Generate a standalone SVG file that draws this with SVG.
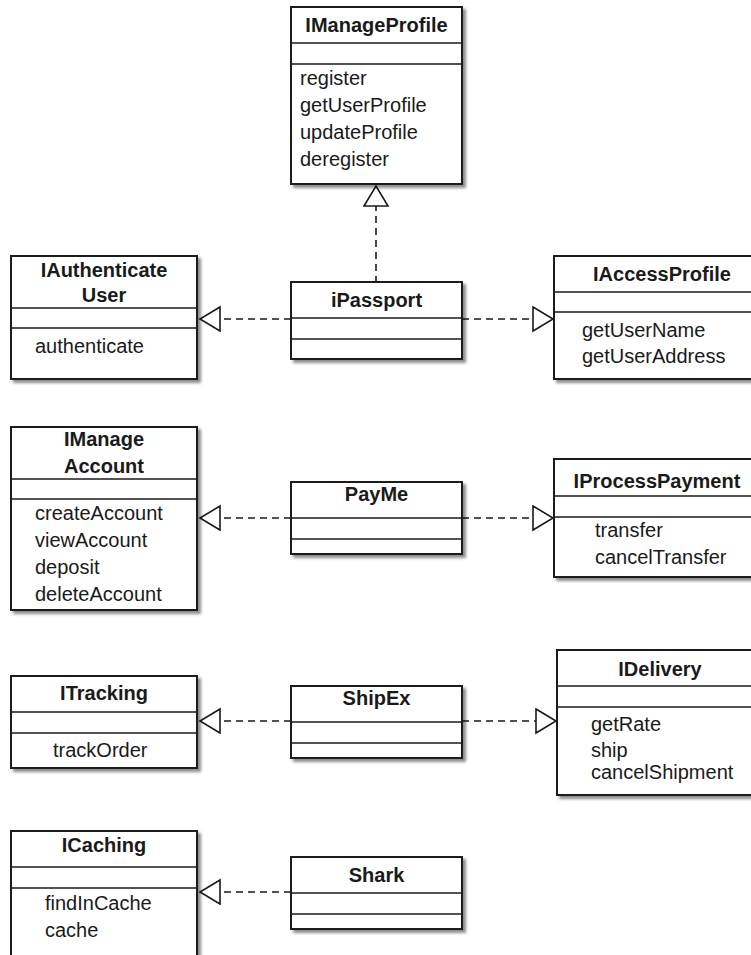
<svg xmlns="http://www.w3.org/2000/svg" width="751" height="955" viewBox="0 0 751 955">
<style>
.box{fill:#fff;stroke:#1a1a1a;stroke-width:2;filter:url(#sh)}
.sep{stroke:#1a1a1a;stroke-width:1.5}
.t{font-family:"Liberation Sans",Arial,sans-serif;font-size:20px;font-weight:bold;fill:#1a1a1a;text-anchor:middle}
.m{font-family:"Liberation Sans",Arial,sans-serif;font-size:20px;fill:#1a1a1a}
.c{fill:none;stroke:#1a1a1a;stroke-width:1.6;stroke-dasharray:7,5;marker-end:url(#tri)}
</style>
<defs>
<filter id="sh" x="-10%" y="-10%" width="130%" height="130%">
<feDropShadow dx="3" dy="3" stdDeviation="1.5" flood-color="#000" flood-opacity="0.45"/>
</filter>
<marker id="tri" markerUnits="userSpaceOnUse" markerWidth="24" markerHeight="28" refX="21" refY="13" orient="auto" viewBox="0 0 24 28">
<path d="M1,1 L21,13 L1,25 Z" fill="#fff" stroke="#1a1a1a" stroke-width="1.6" stroke-dasharray="none"/>
</marker>
</defs>

<g id="connectors">
<line class="c" x1="376" y1="283" x2="376" y2="186"/>
<line class="c" x1="291" y1="319" x2="200" y2="319"/>
<line class="c" x1="462" y1="319" x2="553" y2="319"/>
<line class="c" x1="291" y1="518" x2="200" y2="518"/>
<line class="c" x1="462" y1="518" x2="553" y2="518"/>
<line class="c" x1="291" y1="721" x2="200" y2="721"/>
<line class="c" x1="462" y1="721" x2="556" y2="721"/>
<line class="c" x1="291" y1="892" x2="200" y2="892"/>
</g>

<g id="IManageProfile">
<rect class="box" x="291" y="7" width="171" height="177"/>
<line class="sep" x1="291" y1="43" x2="462" y2="43"/>
<line class="sep" x1="291" y1="64" x2="462" y2="64"/>
<text class="t" x="376.5" y="32">IManageProfile</text>
<text class="m" x="300" y="85">register</text>
<text class="m" x="300" y="112">getUserProfile</text>
<text class="m" x="300" y="139">updateProfile</text>
<text class="m" x="300" y="166">deregister</text>
</g>

<g id="IAuthenticateUser">
<rect class="box" x="11" y="256" width="186" height="123"/>
<line class="sep" x1="11" y1="308" x2="197" y2="308"/>
<line class="sep" x1="11" y1="328" x2="197" y2="328"/>
<text class="t" x="104" y="277">IAuthenticate</text>
<text class="t" x="104" y="302">User</text>
<text class="m" x="35" y="353">authenticate</text>
</g>

<g id="iPassport">
<rect class="box" x="291" y="282" width="171" height="77"/>
<line class="sep" x1="291" y1="318" x2="462" y2="318"/>
<line class="sep" x1="291" y1="339" x2="462" y2="339"/>
<text class="t" x="376.5" y="307">iPassport</text>
</g>

<g id="IAccessProfile">
<rect class="box" x="554" y="256" width="216" height="123"/>
<line class="sep" x1="554" y1="292" x2="770" y2="292"/>
<line class="sep" x1="554" y1="312" x2="770" y2="312"/>
<text class="t" x="662" y="281">IAccessProfile</text>
<text class="m" x="582" y="337">getUserName</text>
<text class="m" x="582" y="363">getUserAddress</text>
</g>

<g id="IManageAccount">
<rect class="box" x="11" y="427" width="186" height="183"/>
<line class="sep" x1="11" y1="479" x2="197" y2="479"/>
<line class="sep" x1="11" y1="499" x2="197" y2="499"/>
<text class="t" x="104" y="446">IManage</text>
<text class="t" x="104" y="473">Account</text>
<text class="m" x="35" y="520">createAccount</text>
<text class="m" x="35" y="547">viewAccount</text>
<text class="m" x="35" y="574">deposit</text>
<text class="m" x="35" y="601">deleteAccount</text>
</g>

<g id="PayMe">
<rect class="box" x="291" y="482" width="171" height="72"/>
<line class="sep" x1="291" y1="518" x2="462" y2="518"/>
<line class="sep" x1="291" y1="539" x2="462" y2="539"/>
<text class="t" x="376.5" y="501">PayMe</text>
</g>

<g id="IProcessPayment">
<rect class="box" x="554" y="459" width="216" height="118"/>
<line class="sep" x1="554" y1="496" x2="770" y2="496"/>
<line class="sep" x1="554" y1="517" x2="770" y2="517"/>
<text class="t" x="657" y="488">IProcessPayment</text>
<text class="m" x="595" y="537">transfer</text>
<text class="m" x="595" y="564">cancelTransfer</text>
</g>

<g id="ITracking">
<rect class="box" x="11" y="676" width="186" height="92"/>
<line class="sep" x1="11" y1="712" x2="197" y2="712"/>
<line class="sep" x1="11" y1="733" x2="197" y2="733"/>
<text class="t" x="104" y="700">ITracking</text>
<text class="m" x="53" y="757">trackOrder</text>
</g>

<g id="ShipEx">
<rect class="box" x="291" y="686" width="171" height="72"/>
<line class="sep" x1="291" y1="722" x2="462" y2="722"/>
<line class="sep" x1="291" y1="743" x2="462" y2="743"/>
<text class="t" x="376.5" y="705">ShipEx</text>
</g>

<g id="IDelivery">
<rect class="box" x="557" y="650" width="213" height="145"/>
<line class="sep" x1="557" y1="686" x2="770" y2="686"/>
<line class="sep" x1="557" y1="707" x2="770" y2="707"/>
<text class="t" x="660" y="676">IDelivery</text>
<text class="m" x="591" y="731">getRate</text>
<text class="m" x="591" y="757">ship</text>
<text class="m" x="591" y="779">cancelShipment</text>
</g>

<g id="ICaching">
<rect class="box" x="11" y="831" width="186" height="140"/>
<line class="sep" x1="11" y1="867" x2="197" y2="867"/>
<line class="sep" x1="11" y1="888" x2="197" y2="888"/>
<text class="t" x="104" y="852">ICaching</text>
<text class="m" x="45" y="910">findInCache</text>
<text class="m" x="45" y="937">cache</text>
</g>

<g id="Shark">
<rect class="box" x="291" y="857" width="171" height="72"/>
<line class="sep" x1="291" y1="893" x2="462" y2="893"/>
<line class="sep" x1="291" y1="914" x2="462" y2="914"/>
<text class="t" x="376.5" y="882">Shark</text>
</g>
</svg>
